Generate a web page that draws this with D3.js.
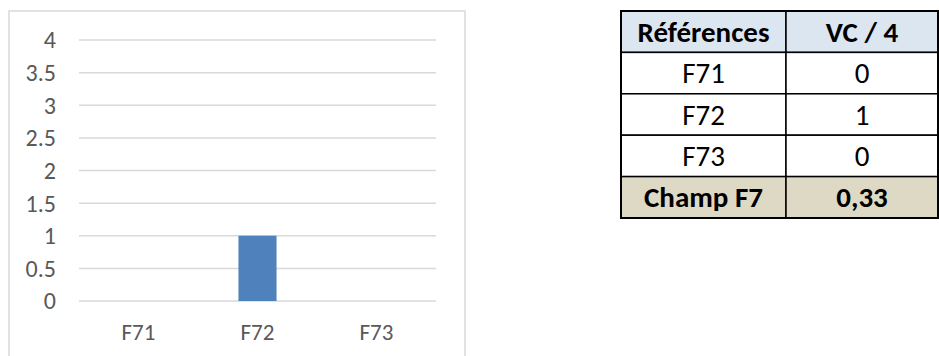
<!DOCTYPE html>
<html>
<head>
<meta charset="utf-8">
<script src="https://cdn.jsdelivr.net/npm/d3@7"></script>
<style>
  body { margin: 0; background: #fff; }
  svg { display: block; }
</style>
</head>
<body>
<svg width="939" height="356"></svg>
<script>
// chart data
const categories = ['F71', 'F72', 'F73'];
const values = [0, 1, 0];
const yTicks = [0, 0.5, 1, 1.5, 2, 2.5, 3, 3.5, 4];

// table data
const tableHeader = ['Références', 'VC / 4'];
const tableRefs = ['F71', 'F72', 'F73'];
const tableVals = ['0', '1', '0'];
const tableTotal = ['Champ F7', '0,33'];

const font = 'Carlito, Calibri, Lato, sans-serif';
const svg = d3.select('svg');

// chart frame
svg.append('rect')
  .attr('x', 9).attr('y', 11)
  .attr('width', 456).attr('height', 360)
  .attr('fill', '#fff')
  .attr('stroke', '#d9d9d9')
  .attr('stroke-width', 1.5);

const x = d3.scaleBand().domain(categories).range([79, 436]).paddingInner(0.68).paddingOuter(0.34);
const y = d3.scaleLinear().domain([0, 4]).range([301, 40]);

// gridlines
svg.append('g')
  .selectAll('line')
  .data(yTicks)
  .enter()
  .append('line')
  .attr('x1', 79).attr('x2', 436)
  .attr('y1', d => y(d)).attr('y2', d => y(d))
  .attr('stroke', '#d9d9d9')
  .attr('stroke-width', 1.5);

// y labels
svg.append('g')
  .selectAll('text')
  .data(yTicks)
  .enter()
  .append('text')
  .attr('x', 56)
  .attr('y', d => y(d))
  .attr('dy', '0.35em')
  .attr('text-anchor', 'end')
  .attr('fill', '#595959')
  .style('font', `24px ${font}`)
  .text(d => d);

// bars
svg.append('g')
  .selectAll('rect')
  .data(values)
  .enter()
  .append('rect')
  .attr('x', (d, i) => x(categories[i]))
  .attr('width', x.bandwidth())
  .attr('y', d => y(d))
  .attr('height', d => y(0) - y(d))
  .attr('fill', '#4f81bd');

// x labels
const xc = d3.scalePoint().domain(categories).range([79, 436]).padding(0.5);
svg.append('g')
  .selectAll('text')
  .data(categories)
  .enter()
  .append('text')
  .attr('x', d => xc(d))
  .attr('y', 332)
  .attr('dy', '0.35em')
  .attr('text-anchor', 'middle')
  .attr('fill', '#595959')
  .style('font', `23px ${font}`)
  .text(d => d);

// table
const tx = [621, 786, 938];
const rows = [tableHeader].concat(tableRefs.map((r, i) => [r, tableVals[i]]), [tableTotal]);
const rowY = d3.scaleBand().domain(d3.range(rows.length)).range([11, 218]);
const fills = ['#dce6f1', '#fff', '#fff', '#fff', '#ddd9c4'];

const tbl = svg.append('g');
rows.forEach((row, ri) => {
  const bold = ri === 0 || ri === rows.length - 1;
  row.forEach((cell, ci) => {
    tbl.append('rect')
      .attr('x', tx[ci]).attr('y', rowY(ri))
      .attr('width', tx[ci + 1] - tx[ci]).attr('height', rowY.bandwidth())
      .attr('fill', fills[ri])
      .attr('stroke', '#000')
      .attr('stroke-width', 1.5);
    tbl.append('text')
      .attr('x', (tx[ci] + tx[ci + 1]) / 2)
      .attr('y', rowY(ri) + rowY.bandwidth() / 2)
      .attr('dy', '0.35em')
      .attr('text-anchor', 'middle')
      .attr('fill', '#000')
      .style('font', `${bold ? 'bold ' : ''}29px ${font}`)
      .text(cell);
  });
});
tbl.append('rect')
  .attr('x', tx[0]).attr('y', 11)
  .attr('width', tx[2] - tx[0]).attr('height', 207)
  .attr('fill', 'none')
  .attr('stroke', '#000')
  .attr('stroke-width', 2);
</script>
</body>
</html>
